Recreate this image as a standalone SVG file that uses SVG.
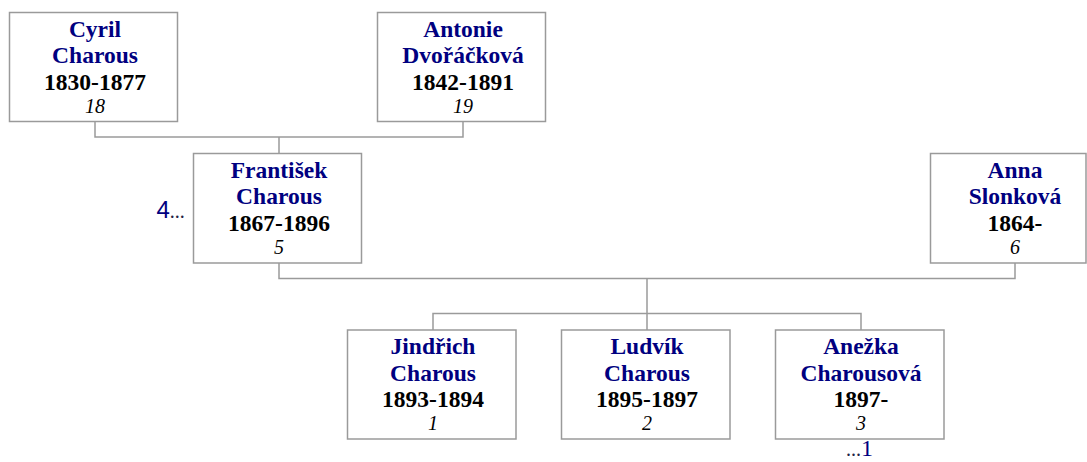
<svg xmlns="http://www.w3.org/2000/svg" width="1087" height="462" viewBox="0 0 1087 462">
<style>
.box{fill:#fff;stroke:#9a9a9a;stroke-width:1.5}
.con{fill:none;stroke:#9a9a9a;stroke-width:1.5}
.nm{font-size:23.5px;font-weight:bold;fill:#000080}
.yr{font-size:23.5px;font-weight:bold;fill:#000}
.no{font-size:20px;font-style:italic;fill:#000}
.dig{fill:#000080}
.dots{font-size:20px;fill:#222244}
</style>
<rect width="1087" height="462" fill="#fff"/>
<g id="connectors">
<path class="con" d="M95 122 V137 H463 V122"/>
<path class="con" d="M279 137 V153.5"/>
<path class="con" d="M279 263 V278.5 H1015 V263"/>
<path class="con" d="M647 278.5 V330"/>
<path class="con" d="M433 330 V313.5 H861 V330"/>
</g>
<g font-family="'Liberation Serif', 'Times New Roman', Times, serif" text-anchor="middle">
<g id="n18">
<rect class="box" x="9.5" y="12.5" width="168" height="109"/>
<text class="nm" x="95" y="36.7">Cyril</text>
<text class="nm" x="95" y="63.4">Charous</text>
<text class="yr" x="95" y="90">1830-1877</text>
<text class="no" x="95" y="112.7">18</text>
</g>
<g id="n19">
<rect class="box" x="377.5" y="12.5" width="168" height="109"/>
<text class="nm" x="463" y="36.7">Antonie</text>
<text class="nm" x="463" y="63.4">Dvořáčková</text>
<text class="yr" x="463" y="90">1842-1891</text>
<text class="no" x="463" y="112.7">19</text>
</g>
<g id="n5">
<rect class="box" x="193.5" y="153.5" width="168" height="109.5"/>
<text class="nm" x="279" y="177.5">František</text>
<text class="nm" x="279" y="204.2">Charous</text>
<text class="yr" x="279" y="230.8">1867-1896</text>
<text class="no" x="279" y="253.5">5</text>
<text x="156.5" y="218" text-anchor="start"><tspan class="dig" font-family="'Liberation Sans', Arial, sans-serif" font-size="24">4</tspan><tspan class="dots">...</tspan></text>
</g>
<g id="n6">
<rect class="box" x="930.5" y="153.5" width="155.5" height="109.5"/>
<text class="nm" x="1015" y="177.5">Anna</text>
<text class="nm" x="1015" y="204.2">Slonková</text>
<text class="yr" x="1015" y="230.8">1864-</text>
<text class="no" x="1015" y="253.5">6</text>
</g>
<g id="n1">
<rect class="box" x="347.5" y="330" width="168.5" height="109"/>
<text class="nm" x="433" y="353.5">Jindřich</text>
<text class="nm" x="433" y="380.5">Charous</text>
<text class="yr" x="433" y="407.3">1893-1894</text>
<text class="no" x="433" y="430">1</text>
</g>
<g id="n2">
<rect class="box" x="561.5" y="330" width="168.5" height="109"/>
<text class="nm" x="647" y="353.5">Ludvík</text>
<text class="nm" x="647" y="380.5">Charous</text>
<text class="yr" x="647" y="407.3">1895-1897</text>
<text class="no" x="647" y="430">2</text>
</g>
<g id="n3">
<rect class="box" x="775.5" y="330" width="168.5" height="109"/>
<text class="nm" x="861" y="353.5">Anežka</text>
<text class="nm" x="861" y="380.5">Charousová</text>
<text class="yr" x="861" y="407.3">1897-</text>
<text class="no" x="861" y="430">3</text>
<text x="846" y="456" text-anchor="start"><tspan class="dots">...</tspan><tspan class="dig" font-size="24">1</tspan></text>
</g>
</g>
</svg>
